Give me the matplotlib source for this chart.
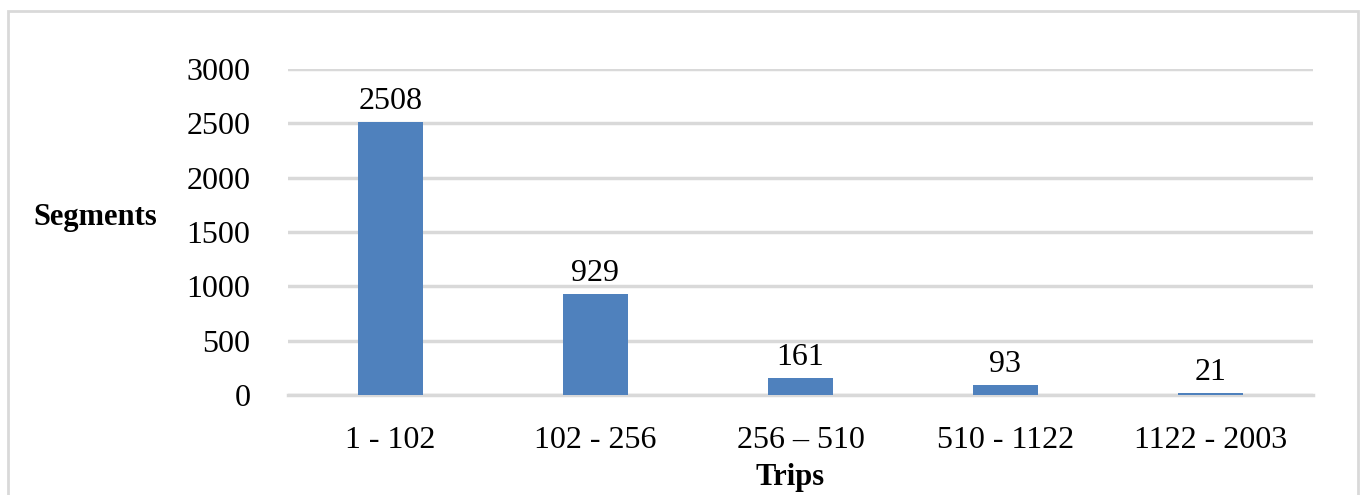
import matplotlib
matplotlib.use("Agg")
import matplotlib.pyplot as plt
from matplotlib.patches import Rectangle

# data
categories = ["1 - 102", "102 - 256", "256 \u2013 510", "510 - 1122", "1122 - 2003"]
segments = [2508, 929, 161, 93, 21]
yticks = [0, 500, 1000, 1500, 2000, 2500, 3000]

plt.rcParams["font.family"] = ["Liberation Serif", "DejaVu Serif"]

fig = plt.figure(figsize=(13.62, 4.95), dpi=100)
ax = fig.add_axes([288 / 1362, 100 / 495, 1025 / 1362, 326 / 495])

x = range(len(categories))
bars = ax.bar(x, segments, width=0.316, color="#4F81BD", zorder=3)

for xi, v in zip(x, segments):
    ax.text(xi, v + 55, str(v), ha="center", va="bottom", fontsize=23, zorder=4)

ax.set_xlim(-0.5, len(categories) - 0.5)
ax.set_ylim(0, 3000)
ax.set_yticks(yticks)
ax.set_yticklabels([str(t) for t in yticks], fontsize=23)
ax.set_xticks(list(x))
ax.set_xticklabels(categories, fontsize=23)
ax.tick_params(axis="both", length=0)
ax.tick_params(axis="y", pad=27)
ax.tick_params(axis="x", pad=22)

ax.grid(axis="y", color="#D9D9D9", linewidth=2.5, zorder=0)
for s in ["top", "right", "left"]:
    ax.spines[s].set_visible(False)
ax.spines["bottom"].set_color("#D9D9D9")
ax.spines["bottom"].set_linewidth(2.5)

fig.text(95 / 1362, 1 - 218 / 495, "Segments", ha="center", va="center",
         fontsize=22, fontweight="bold")
fig.text(790 / 1362, 1 - 478 / 495, "Trips", ha="center", va="center",
         fontsize=22, fontweight="bold")

# light frame around the chart
fig.patches.append(Rectangle((8 / 1362, -0.05), 1350 / 1362, 1 - 11 / 495 + 0.05,
                             transform=fig.transFigure, fill=False,
                             edgecolor="#D9D9D9", linewidth=2))

fig.savefig("out.png", dpi=100)
